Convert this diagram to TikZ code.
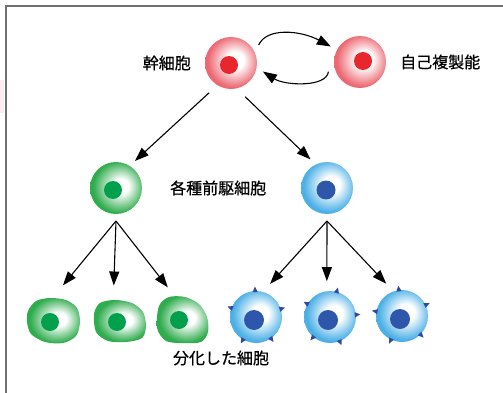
\documentclass[tikz,border=0pt]{standalone}
\usepackage{fontspec}
\newfontfamily\jpfont[FakeBold=0.7]{Noto Sans CJK JP}
\usetikzlibrary{arrows.meta,positioning}
\definecolor{cellred}{RGB}{236,104,114}
\definecolor{nucred}{RGB}{232,38,46}
\definecolor{cellgreen}{RGB}{48,172,78}
\definecolor{nucgreen}{RGB}{0,160,76}
\definecolor{cellblue}{RGB}{76,176,230}
\definecolor{nucblue}{RGB}{46,86,170}
\definecolor{spikeblue}{RGB}{48,72,166}
\definecolor{framegray}{RGB}{112,112,112}
\definecolor{edgepink}{RGB}{252,236,240}
\pgfdeclareradialshading{redcell}{\pgfpoint{5bp}{3bp}}{color(0bp)=(white); color(8bp)=(white); color(25bp)=(cellred); color(50bp)=(cellred)}
\pgfdeclareradialshading{greencell}{\pgfpoint{6bp}{2bp}}{color(0bp)=(white); color(7bp)=(white); color(25bp)=(cellgreen); color(50bp)=(cellgreen)}
\pgfdeclareradialshading{bluecell}{\pgfpoint{5bp}{4bp}}{color(0bp)=(white); color(8bp)=(white); color(25bp)=(cellblue); color(50bp)=(cellblue)}

\begin{document}
\begin{tikzpicture}[x=1pt,y=-1pt,
    cell/.style={circle,minimum size=52pt,inner sep=0pt,outer sep=7pt},
    mature/.style={circle,minimum size=52pt,inner sep=0pt,outer sep=10pt},
    arr/.style={-{Triangle[length=14pt,width=10pt]},line width=1.1pt},
    lbl/.style={inner sep=0pt,font=\jpfont\fontsize{16}{19}\selectfont}]
    \useasboundingbox (0,0) rectangle (503,393);
    \fill[edgepink] (0,80) rectangle (4,113);
    \draw[framegray,line width=1.4pt] (6,393) -- (6,6) -- (503,6);

    \node[cell,shade,shading=redcell] (stem) at (231,63) {};
    \node[cell,shade,shading=redcell] (self) at (360,62) {};
    \node[cell,shade,shading=greencell] (green) at (116,188) {};
    \node[cell,shade,shading=bluecell] (blue) at (327,188) {};
    \fill[nucred] ([xshift=-2pt,yshift=-2pt]stem.center) circle (9pt);
    \fill[nucred] ([xshift=3pt,yshift=1pt]self.center) circle (9pt);
    \fill[nucgreen] ([xshift=-3pt,yshift=-2pt]green.center) circle (9pt);
    \fill[nucblue] ([xshift=-1pt,yshift=-2pt]blue.center) circle (9.5pt);

    \node[mature] (g1) at (53,320) {};
    \node[mature] (g2) at (120,321) {};
    \node[mature] (g3) at (183,320) {};
    \shade[shading=greencell,shift={(53,320)}] plot[smooth cycle] coordinates
        {(-25,-9) (-17,-19) (-3,-22) (13,-20) (24,-12) (27,2) (23,16) (10,23) (-8,22) (-22,14) (-26,2)};
    \shade[shading=greencell,shift={(120,321)}] plot[smooth cycle] coordinates
        {(-26,-7) (-20,-18) (-5,-21) (12,-18) (23,-9) (26,5) (22,17) (6,21) (-12,20) (-24,11)};
    \shade[shading=greencell,shift={(183,320)}] plot[smooth cycle] coordinates
        {(-24,-14) (-14,-23) (2,-23) (16,-16) (24,-3) (25,12) (18,22) (0,23) (-17,21) (-26,8)};
    \fill[nucgreen] ([xshift=-3pt,yshift=-2pt]g1.center) circle (9pt);
    \fill[nucgreen] ([xshift=-3pt,yshift=-1pt]g2.center) circle (9pt);
    \fill[nucgreen] ([xshift=-4pt]g3.center) circle (9pt);

    \node[mature,shade,shading=bluecell] (b1) at (256,317) {};
    \node[mature,shade,shading=bluecell] (b2) at (330,317) {};
    \node[mature,shade,shading=bluecell] (b3) at (402,316) {};
    \foreach \c in {b1,b2,b3}
        \fill[nucblue] ([xshift=-2pt,yshift=-3pt]\c.center) circle (10pt);
    \foreach \c/\a in {b1/92,b1/18,b1/-55,b1/-120,b1/160,
                       b2/75,b2/150,b2/5,b2/-130,b2/-68,
                       b3/97,b3/25,b3/170,b3/-115,b3/-45}
        \fill[spikeblue] ([shift={(\a-6:25pt)}]\c.center) -- ([shift={(\a:30.5pt)}]\c.center)
            -- ([shift={(\a+6:25pt)}]\c.center) -- cycle;

    \draw[arr] (stem.33) .. controls +(8,-18) and +(-30,-16) .. (self.152);
    \draw[arr] (self.197) .. controls +(-2,16) and +(22,14) .. (stem.345);
    \draw[arr,shorten <=4pt] (stem.235) -- (green.55);
    \draw[arr,shorten <=4pt] (stem.290) -- (blue.120);
    \foreach \c/\a in {g1/74,g2/100,g3/115}
        \draw[arr] (green.270) -- (\c.\a);
    \foreach \c/\a in {b1/67,b2/95,b3/116}
        \draw[arr] (blue.270) -- (\c.\a);

    \node[lbl,left=7pt of stem] (stemlbl) {幹細胞};
    \node[lbl,right=7pt of self] (selflbl) {自己複製能};
    \node[lbl,right=21pt of green] (proglbl) {各種前駆細胞};
    \node[lbl] (difflbl) at (221,358) {分化した細胞};
\end{tikzpicture}
\end{document}
